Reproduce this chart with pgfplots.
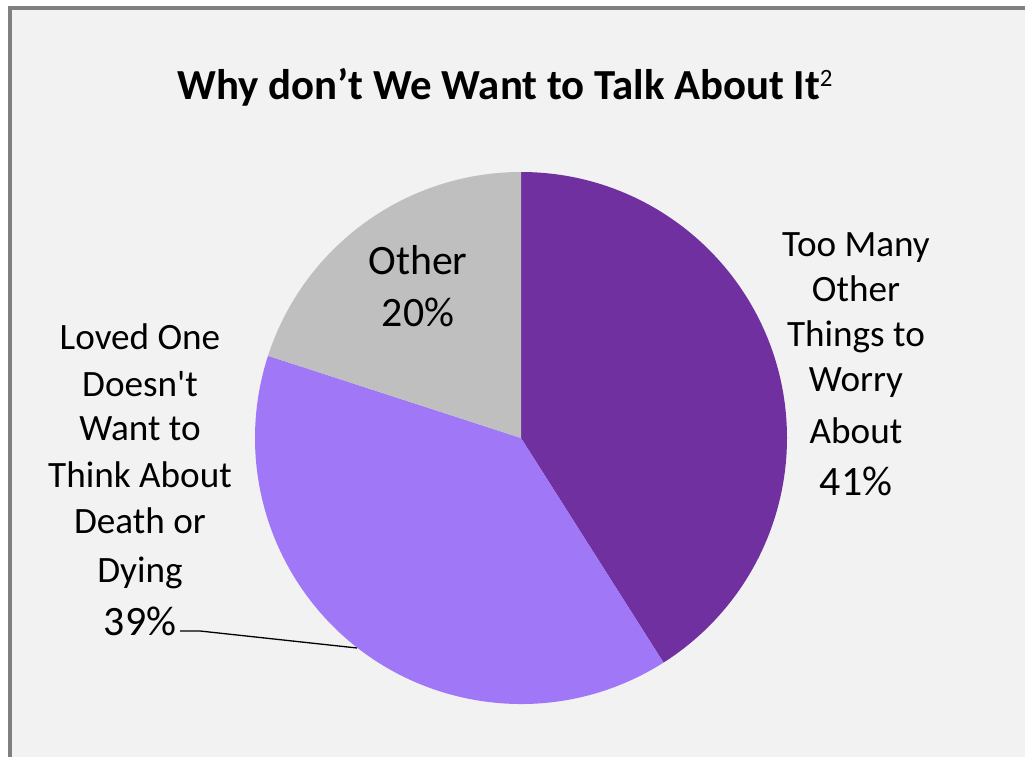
\documentclass[border=0pt]{standalone}
\usepackage{pgfplots}
\pgfplotsset{compat=1.18}
\usepackage{pgfplotstable}
\usepackage{fontspec}
\setmainfont{Carlito}[Ligatures=TeXOff]
\definecolor{bg}{HTML}{F2F2F2}
\definecolor{framec}{HTML}{808080}
\definecolor{s1}{HTML}{7030A0}
\definecolor{s2}{HTML}{A077F7}
\definecolor{s3}{HTML}{BFBFBF}
\pgfplotstableread{
label value
TooMany 41
LovedOne 39
Other 20
}\piedata
\pgfplotstablegetelem{0}{value}\of\piedata \let\va\pgfplotsretval
\pgfplotstablegetelem{1}{value}\of\piedata \let\vb\pgfplotsretval
\pgfplotstablegetelem{2}{value}\of\piedata \let\vc\pgfplotsretval
\pgfmathsetmacro{\aA}{90}
\pgfmathsetmacro{\aB}{90-3.6*\va}
\pgfmathsetmacro{\aC}{\aB-3.6*\vb}
\pgfmathsetmacro{\aD}{\aC-3.6*\vc}
\newcommand{\lab}{\fontsize{37.3}{44}\selectfont}
\newcommand{\pct}{\fontsize{42}{48}\selectfont}
\begin{document}
\begin{tikzpicture}
\useasboundingbox (0,0) rectangle (1025bp,757bp);
\fill[white] (0,0) rectangle (1025bp,757bp);
\filldraw[fill=bg, draw=framec, line width=4bp] (10bp,-30bp) rectangle (1050bp,748.5bp);
\begin{axis}[at={(0,0)}, anchor=south west, x=1bp, y=1bp, xmin=0, xmax=1025, ymin=0, ymax=757, hide axis, clip=false, scale only axis]
\fill[s1] (axis cs:521,319) -- ++(\aA:266bp) arc[start angle=\aA, end angle=\aB, radius=266bp] -- cycle;
\fill[s2] (axis cs:521,319) -- ++(\aB:266bp) arc[start angle=\aB, end angle=\aC, radius=266bp] -- cycle;
\fill[s3] (axis cs:521,319) -- ++(\aC:266bp) arc[start angle=\aC, end angle=\aD, radius=266bp] -- cycle;
\draw[black, line width=1.3bp] (axis cs:180,126) -- (axis cs:200,126) -- (axis cs:357,109);
\node[anchor=base, inner sep=0] at (axis cs:505,657) {\fontsize{43}{50}\selectfont\bfseries Why don’t We Want to Talk About It\raisebox{13bp}{\fontsize{25}{25}\selectfont\mdseries 2}};
% right label
\node[anchor=base, inner sep=0] at (axis cs:856,500) {\lab Too Many};
\node[anchor=base, inner sep=0] at (axis cs:856,455) {\lab Other};
\node[anchor=base, inner sep=0] at (axis cs:856,410) {\lab Things to};
\node[anchor=base, inner sep=0] at (axis cs:856,366) {\lab Worry};
\node[anchor=base, inner sep=0] at (axis cs:856,314) {\lab About};
\node[anchor=base, inner sep=0] at (axis cs:856,262) {\pct \va\%};
% other label
\node[anchor=base, inner sep=0] at (axis cs:418,482) {\pct Other};
\node[anchor=base, inner sep=0] at (axis cs:418,430) {\pct \vc\%};
% left label
\node[anchor=base, inner sep=0] at (axis cs:140,407) {\lab Loved One};
\node[anchor=base, inner sep=0] at (axis cs:140,361) {\lab Doesn't};
\node[anchor=base, inner sep=0] at (axis cs:140,317) {\lab Want to};
\node[anchor=base, inner sep=0] at (axis cs:140,270) {\lab Think About};
\node[anchor=base, inner sep=0] at (axis cs:140,224) {\lab Death or};
\node[anchor=base, inner sep=0] at (axis cs:140,175) {\lab Dying};
\node[anchor=base, inner sep=0] at (axis cs:140,122) {\pct \vb\%};
\end{axis}
\end{tikzpicture}
\end{document}
